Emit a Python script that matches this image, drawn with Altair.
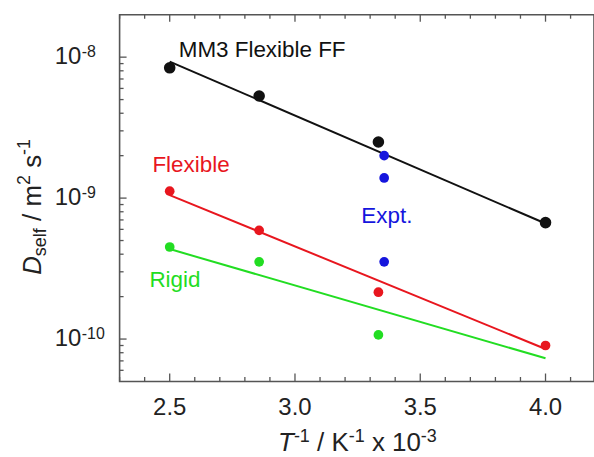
import altair as alt
import pandas as pd

FONT = "Liberation Sans"

# Inverse temperature, 1/K x 10^-3 (400, 350, 300, 250 K)
inv_t = [2.5, 2.857, 3.333, 4.0]
d_mm3 = [8.4e-9, 5.3e-9, 2.5e-9, 6.7e-10]
d_flexible = [1.12e-9, 5.9e-10, 2.15e-10, 9.0e-11]
inv_t_rigid = [2.5, 2.857, 3.333]
d_rigid = [4.5e-10, 3.53e-10, 1.07e-10]
inv_t_expt = [3.356, 3.356, 3.356]
d_expt = [2.0e-9, 1.39e-9, 3.53e-10]

# Arrhenius fit lines (end points)
fit_x = [2.5, 4.0]
fit_mm3 = [9.3e-9, 6.6e-10]
fit_flexible = [1.05e-9, 8.5e-11]
fit_rigid = [4.35e-10, 7.3e-11]

BLACK, RED, GREEN, BLUE = "#111111", "#e8161e", "#22dd22", "#1515dd"

# In-plot labels: text, colour, x, y
label_text = ["MM3 Flexible FF", "Flexible", "Expt.", "Rigid"]
label_color = [BLACK, RED, BLUE, GREEN]
label_x = [2.536, 2.431, 3.265, 2.419]
label_y = [1.0e-8, 1.52e-9, 6.64e-10, 2.35e-10]

# Axis ticks and tick labels
x_major = [2.5, 3.0, 3.5, 4.0]
x_tick_text = ["2.5", "3.0", "3.5", "4.0"]
x_minor = [2.3, 2.4, 2.6, 2.7, 2.8, 2.9, 3.1, 3.2, 3.3, 3.4, 3.6, 3.7, 3.8, 3.9, 4.1]
y_major = [1e-10, 1e-9, 1e-8]
y_tick_base = ["10", "10", "10"]
y_tick_exp = ["-10", "-9", "-8"]
y_minor = [6e-11, 7e-11, 8e-11, 9e-11,
           2e-10, 3e-10, 4e-10, 5e-10, 6e-10, 7e-10, 8e-10, 9e-10,
           2e-9, 3e-9, 4e-9, 5e-9, 6e-9, 7e-9, 8e-9, 9e-9]

# Layout (right frame edge sits just past the canvas)
LEFT, TOP, W, H = 120, 14, 476, 368
BOTTOM = 457 - TOP - H
AXIS_COLOR = "#555555"
TEXT_COLOR = "#222222"

xs = alt.Scale(domain=[2.3, 4.1935], nice=False, zero=False)
ys = alt.Scale(type="log", domain=[5e-11, 2e-8], nice=False)


def xy(xf="x:Q", yf="d:Q"):
    return dict(x=alt.X(xf, scale=xs, axis=None), y=alt.Y(yf, scale=ys, axis=None))


# ---- fit lines and data points ------------------------------------------
def fit_line(values, color):
    df = pd.DataFrame({"x": fit_x, "d": values})
    return alt.Chart(df).mark_line(strokeWidth=2, color=color).encode(**xy())


def dots(xv, yv, color, size):
    df = pd.DataFrame({"x": xv, "d": yv})
    return alt.Chart(df).mark_circle(opacity=1, size=size, color=color).encode(**xy())


data_layers = [
    fit_line(fit_rigid, GREEN), fit_line(fit_flexible, RED), fit_line(fit_mm3, BLACK),
    dots(inv_t_rigid, d_rigid, GREEN, 95),
    dots(inv_t, d_flexible, RED, 95),
    dots(inv_t_expt, d_expt, BLUE, 95),
    dots(inv_t, d_mm3, BLACK, 135),
]

label_layers = [
    alt.Chart(pd.DataFrame({"x": [lx], "d": [ly], "t": [lt]})).mark_text(
        align="left", baseline="alphabetic", fontSize=22.5, font=FONT, color=lc
    ).encode(text="t:N", **xy())
    for lt, lc, lx, ly in zip(label_text, label_color, label_x, label_y)
]

# ---- tick labels ------------------------------------------------------------
xlab_df = pd.DataFrame({"v": x_major, "t": x_tick_text})
ylab_df = pd.DataFrame({"v": y_major, "b": y_tick_base, "e": y_tick_exp})

x_labels = alt.Chart(xlab_df).mark_text(
    baseline="top", align="center", fontSize=24, font=FONT, color=TEXT_COLOR
).encode(x=alt.X("v:Q", scale=xs, axis=None), y=alt.value(H + 15), text="t:N")

y_labels = alt.Chart(ylab_df).mark_text(
    baseline="middle", align="left", fontSize=24, font=FONT, color=TEXT_COLOR
).encode(y=alt.Y("v:Q", scale=ys, axis=None), x=alt.value(-65), text="b:N")

y_exps = alt.Chart(ylab_df).mark_text(
    baseline="middle", align="left", fontSize=16, font=FONT, color=TEXT_COLOR, dy=-5
).encode(y=alt.Y("v:Q", scale=ys, axis=None), x=alt.value(-38), text="e:N")

# ---- axis titles built from pieces (italic symbol, sub/superscripts) -------
ADV = {"0": .556, "1": .556, "2": .556, "3": .556, "-": .333, " ": .278,
       "/": .278, "T": .611, "K": .667, "x": .5, "D": .722, "s": .5,
       "e": .556, "l": .222, "f": .278, "m": .833}


def lay_out(pieces, start, sign):
    rows, pos = [], start
    for txt, size, shift, italic in pieces:
        shown = txt.lstrip()
        pos += sign * (len(txt) - len(shown)) * ADV[" "] * size
        rows.append({"txt": shown, "fs": size, "pos": pos, "shift": shift, "italic": italic})
        pos += sign * sum(ADV[c] for c in shown) * size
    return pd.DataFrame(rows)


xt = lay_out([("T", 26, 0, True), ("-1", 18, -9, False), (" / K", 26, 0, False),
              ("-1", 18, -9, False), (" x 10", 26, 0, False), ("-3", 18, -9, False)],
             279 - LEFT, 1)
xt["px"] = xt["pos"]
xt["py"] = 452 - TOP + xt["shift"]

yt = lay_out([("D", 26, 0, True), ("self", 18, 5, False), (" / m", 26, 0, False),
              ("2", 18, -11, False), (" s", 26, 0, False), ("-1", 18, -11, False)],
             275 - TOP, -1)
yt["py"] = yt["pos"]
yt["px"] = 41.5 - LEFT + yt["shift"]


def title_layers(df, angle):
    out = []
    for (size, italic), part in df.groupby(["fs", "italic"]):
        props = dict(align="left", baseline="alphabetic", font=FONT, color=TEXT_COLOR,
                     fontSize=float(size))
        if italic:
            props["fontStyle"] = "italic"
        if angle:
            props["angle"] = angle
        out.append(alt.Chart(part[["px", "py", "txt"]]).mark_text(**props).encode(
            x=alt.X("px:Q", scale=None), y=alt.Y("py:Q", scale=None), text="txt:N"))
    return out


# ---- inward frame ticks ---------------------------------------------------
def x_ticks(values, y0, y1):
    return alt.Chart(pd.DataFrame({"v": values})).mark_rule(
        color=AXIS_COLOR, strokeWidth=1.3
    ).encode(x=alt.X("v:Q", scale=xs, axis=None), y=alt.value(y0), y2=alt.value(y1))


def y_ticks(values, x0, x1):
    return alt.Chart(pd.DataFrame({"v": values})).mark_rule(
        color=AXIS_COLOR, strokeWidth=1.3
    ).encode(y=alt.Y("v:Q", scale=ys, axis=None), x=alt.value(x0), x2=alt.value(x1))


tick_layers = [
    x_ticks(x_major, H - 8, H), x_ticks(x_minor, H - 4.5, H),
    x_ticks(x_major, 0, 7), x_ticks(x_minor, 0, 4),
    y_ticks(y_major, 0, 7), y_ticks(y_minor, 0, 4),
]

chart = alt.layer(
    *data_layers, *label_layers, x_labels, y_labels, y_exps,
    *title_layers(xt, 0), *title_layers(yt, 270),
    *tick_layers,
).properties(
    width=W, height=H,
    autosize=alt.AutoSizeParams(type="none"),
    padding={"left": LEFT, "top": TOP, "right": 0, "bottom": BOTTOM},
    background="white",
).configure_view(stroke=AXIS_COLOR, strokeWidth=1.6)

chart.save("out.html", embed_options={"renderer": "svg", "actions": False})
